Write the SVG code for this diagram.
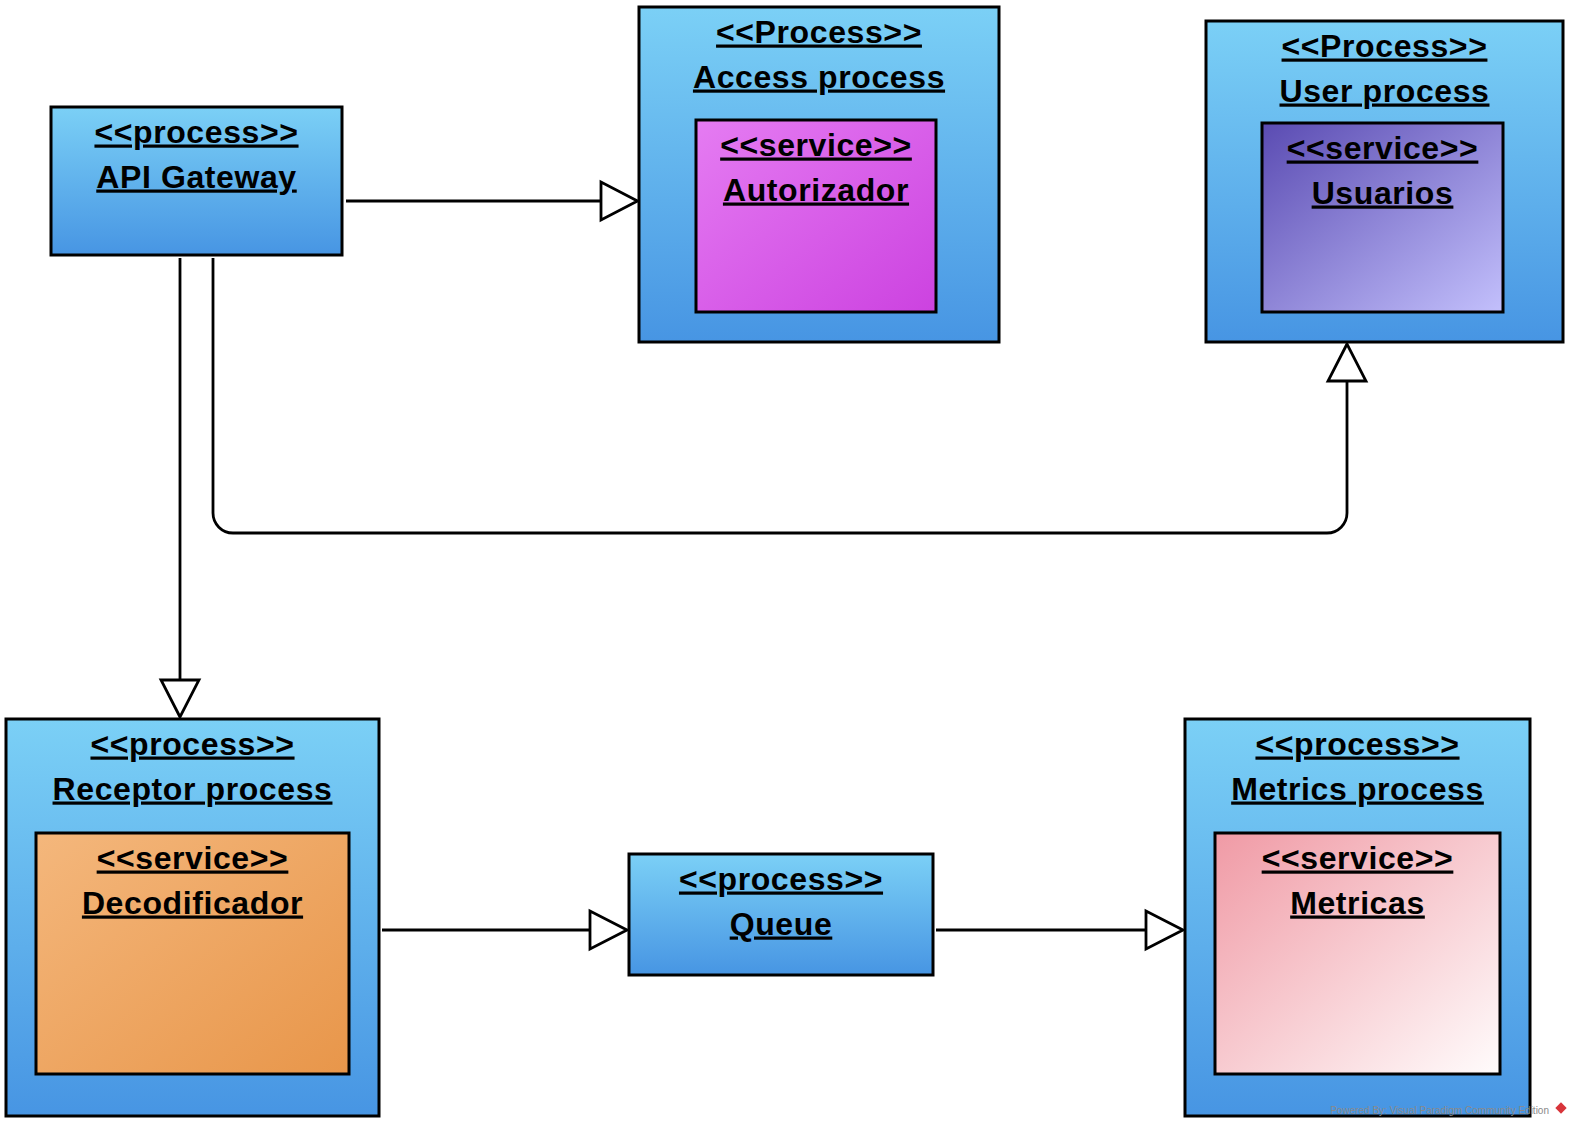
<svg xmlns="http://www.w3.org/2000/svg" width="1575" height="1128" viewBox="0 0 1575 1128">
<style>
.box{stroke:#000;stroke-width:3}
.outer{fill:url(#gBlue)}
.t{font-family:"Liberation Sans",Arial,sans-serif;font-weight:bold;font-size:32px;letter-spacing:0.6px;fill:#000;text-anchor:middle;text-decoration:underline;text-decoration-skip-ink:none}
.c{fill:none;stroke:#000;stroke-width:2.8}
.ah{fill:#fff;stroke:#000;stroke-width:2.8;stroke-linejoin:miter}
.wm{font-family:"Liberation Sans",Arial,sans-serif;font-size:10px;fill:#8a8a8a;text-anchor:end}
</style>
<defs>
<linearGradient id="gBlue" x1="0" y1="0" x2="0" y2="1">
<stop offset="0" stop-color="#7bd0f6"/>
<stop offset="1" stop-color="#4795e3"/>
</linearGradient>
<linearGradient id="gMag" x1="0" y1="0" x2="1" y2="1">
<stop offset="0" stop-color="#e57cf2"/>
<stop offset="1" stop-color="#cc42e0"/>
</linearGradient>
<linearGradient id="gPur" x1="0" y1="0" x2="1" y2="1">
<stop offset="0" stop-color="#5a4bb2"/>
<stop offset="1" stop-color="#c3c0fc"/>
</linearGradient>
<linearGradient id="gOra" x1="0" y1="0" x2="1" y2="1">
<stop offset="0" stop-color="#f4b77c"/>
<stop offset="1" stop-color="#e8964a"/>
</linearGradient>
<linearGradient id="gPink" x1="0" y1="0" x2="1" y2="1">
<stop offset="0" stop-color="#f09aa5"/>
<stop offset="1" stop-color="#fffcfc"/>
</linearGradient>
</defs>

<g id="connectors">
<line class="c" x1="346" y1="201" x2="601" y2="201"/>
<polygon class="ah" points="637.5,201 601,182 601,220"/>
<line class="c" x1="180" y1="258" x2="180" y2="680"/>
<polygon class="ah" points="180,717 161,680 199,680"/>
<path class="c" d="M213,258 V513 A20,20 0 0 0 233,533 H1327 A20,20 0 0 0 1347,513 V381"/>
<polygon class="ah" points="1347,344 1328,381 1366,381"/>
<line class="c" x1="382" y1="930" x2="590" y2="930"/>
<polygon class="ah" points="627,930 590,911 590,949"/>
<line class="c" x1="936" y1="930" x2="1146" y2="930"/>
<polygon class="ah" points="1183,930 1146,911 1146,949"/>
</g>

<g id="api-gateway">
<rect class="box outer" x="51" y="107" width="291" height="148"/>
<text class="t" x="196.5" y="142.5">&lt;&lt;process&gt;&gt;</text>
<text class="t" x="196.5" y="187.5">API Gateway</text>
</g>

<g id="access-process">
<rect class="box outer" x="639" y="7" width="360" height="335"/>
<text class="t" x="819" y="42.5">&lt;&lt;Process&gt;&gt;</text>
<text class="t" x="819" y="87.5">Access process</text>
<g id="autorizador">
<rect class="box" fill="url(#gMag)" x="696" y="120" width="240" height="192"/>
<text class="t" x="816" y="155.5">&lt;&lt;service&gt;&gt;</text>
<text class="t" x="816" y="200.5">Autorizador</text>
</g>
</g>

<g id="user-process">
<rect class="box outer" x="1206" y="21" width="357" height="321"/>
<text class="t" x="1384.5" y="56.5">&lt;&lt;Process&gt;&gt;</text>
<text class="t" x="1384.5" y="101.5">User process</text>
<g id="usuarios">
<rect class="box" fill="url(#gPur)" x="1262" y="123" width="241" height="189"/>
<text class="t" x="1382.5" y="158.5">&lt;&lt;service&gt;&gt;</text>
<text class="t" x="1382.5" y="203.5">Usuarios</text>
</g>
</g>

<g id="receptor-process">
<rect class="box outer" x="6" y="719" width="373" height="397"/>
<text class="t" x="192.5" y="754.5">&lt;&lt;process&gt;&gt;</text>
<text class="t" x="192.5" y="799.5">Receptor process</text>
<g id="decodificador">
<rect class="box" fill="url(#gOra)" x="36" y="833" width="313" height="241"/>
<text class="t" x="192.5" y="868.5">&lt;&lt;service&gt;&gt;</text>
<text class="t" x="192.5" y="913.5">Decodificador</text>
</g>
</g>

<g id="queue">
<rect class="box outer" x="629" y="854" width="304" height="121"/>
<text class="t" x="781" y="889.5">&lt;&lt;process&gt;&gt;</text>
<text class="t" x="781" y="934.5">Queue</text>
</g>

<g id="metrics-process">
<rect class="box outer" x="1185" y="719" width="345" height="397"/>
<text class="t" x="1357.5" y="754.5">&lt;&lt;process&gt;&gt;</text>
<text class="t" x="1357.5" y="799.5">Metrics process</text>
<g id="metricas">
<rect class="box" fill="url(#gPink)" x="1215" y="833" width="285" height="241"/>
<text class="t" x="1357.5" y="868.5">&lt;&lt;service&gt;&gt;</text>
<text class="t" x="1357.5" y="913.5">Metricas</text>
</g>
</g>

<g id="watermark">
<text class="wm" x="1549" y="1114">Powered By: Visual Paradigm Community Edition</text>
<rect x="1557" y="1104" width="8" height="8" fill="#d8343a" transform="rotate(45 1561 1108)"/>
</g>
</svg>
